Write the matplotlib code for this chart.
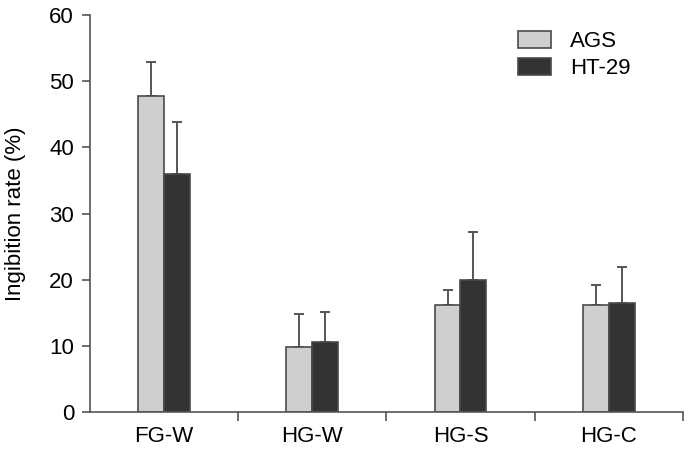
import numpy as np
import matplotlib.pyplot as plt
from matplotlib.patches import Patch

plt.rcParams['font.family'] = ['Liberation Sans', 'DejaVu Sans']

groups = ["FG-W", "HG-W", "HG-S", "HG-C"]
ags = [47.7, 9.8, 16.1, 16.1]
ags_err = [5.2, 5.0, 2.4, 3.1]
ht29 = [36.0, 10.6, 19.9, 16.5]
ht29_err = [7.8, 4.5, 7.3, 5.4]

x = np.arange(len(groups))
w = 0.175

fig = plt.figure(figsize=(6.89, 4.5), dpi=100)
ax = fig.add_axes([0.1306, 0.0844, 0.8604, 0.8823])

edge = "#4a4a4a"
ax.bar(x - w / 2, ags, w, color="#cfcfcf", edgecolor=edge, linewidth=1.2, zorder=2)
ax.bar(x + w / 2, ht29, w, color="#333333", edgecolor=edge, linewidth=1.2, zorder=2)

# only upper error bars
ax.errorbar(x - w / 2, ags, yerr=[np.zeros(4), ags_err], fmt="none",
            ecolor="#555555", elinewidth=1.4, capsize=3.6, capthick=1.4, zorder=1)
ax.errorbar(x + w / 2, ht29, yerr=[np.zeros(4), ht29_err], fmt="none",
            ecolor="#555555", elinewidth=1.4, capsize=3.6, capthick=1.4, zorder=1)

ax.set_xlim(-0.5, 3.5)
ax.set_ylim(0, 60)
ax.set_yticks(range(0, 61, 10))
ax.set_xticks(x)
ax.set_xticklabels(groups)
ax.set_xticks([0.5, 1.5, 2.5, 3.5], minor=True)
ax.tick_params(axis="x", which="major", length=0, labelsize=16, pad=10)
ax.tick_params(axis="x", which="minor", length=6.5, width=1.2, color="#555555", direction="out")
ax.tick_params(axis="y", length=6, width=1.2, color="#555555", labelsize=16, pad=5.5)

for s in ["top", "right"]:
    ax.spines[s].set_visible(False)
for s in ["left", "bottom"]:
    ax.spines[s].set_color("#555555")
    ax.spines[s].set_linewidth(1.2)

ax.set_ylabel("Ingibition rate (%)", fontsize=16, labelpad=17)

handles = [Patch(facecolor="#cfcfcf", edgecolor=edge, linewidth=1.2),
           Patch(facecolor="#333333", edgecolor=edge, linewidth=1.2)]
ax.legend(handles, ["AGS", "HT-29"], loc="upper left", bbox_to_anchor=(0.722, 0.96),
          frameon=False, fontsize=16, handlelength=1.5, handleheight=0.8,
          handletextpad=0.85, labelspacing=0.25, borderpad=0, borderaxespad=0)

fig.savefig("out.png", dpi=100)
